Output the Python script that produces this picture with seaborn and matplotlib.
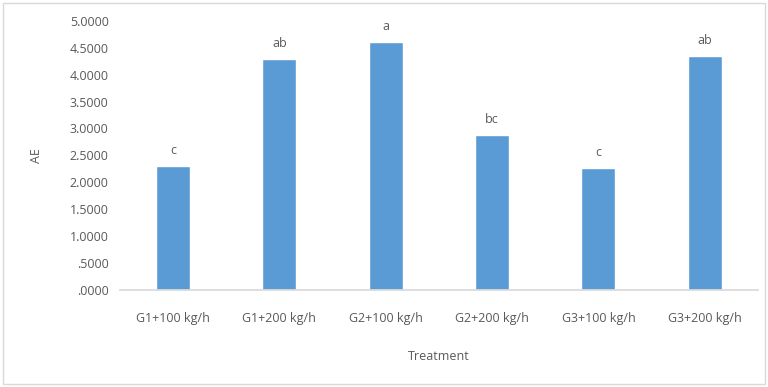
import matplotlib
matplotlib.use("Agg")
import matplotlib.pyplot as plt
import seaborn as sns
import pandas as pd

treatments = ["G1+100 kg/h", "G1+200 kg/h", "G2+100 kg/h", "G2+200 kg/h", "G3+100 kg/h", "G3+200 kg/h"]
ae_values = [2.30, 4.29, 4.61, 2.88, 2.27, 4.34]
letters = ["c", "ab", "a", "bc", "c", "ab"]
y_ticks = [0, 0.5, 1.0, 1.5, 2.0, 2.5, 3.0, 3.5, 4.0, 4.5, 5.0]

df = pd.DataFrame({"Treatment": treatments, "AE": ae_values})

sns.set_theme(style="white")
plt.rcParams["font.family"] = ["Open Sans", "DejaVu Sans"]
grey = "#595959"

fig = plt.figure(figsize=(7.68, 3.87), dpi=100)
ax = fig.add_axes([0.156, 0.251, 0.831, 0.695])
sns.barplot(data=df, x="Treatment", y="AE", color="#5B9BD5", width=0.32,
            saturation=1, ax=ax)

for i, (v, lab) in enumerate(zip(ae_values, letters)):
    ax.text(i, v + 0.17, lab, ha="center", va="bottom", fontsize=9, color=grey)

ax.set_ylim(0, 5.0)
ax.set_xlim(-0.5, 5.5)
ax.set_yticks(y_ticks)
ax.set_yticklabels(["." + f"{t:.4f}".split(".")[1] if t < 1 else f"{t:.4f}" for t in y_ticks])
ax.tick_params(axis="both", length=0, labelsize=9, colors=grey, pad=8)
ax.tick_params(axis="x", pad=16)
for s in ["top", "right", "left"]:
    ax.spines[s].set_visible(False)
ax.spines["bottom"].set_color("#D9D9D9")
ax.set_xlabel("Treatment", fontsize=9, color=grey, labelpad=18)
ax.set_ylabel("AE", fontsize=9, color=grey, labelpad=19)

fig.patches.append(plt.Rectangle((0.004, 0.008), 0.992, 0.984, transform=fig.transFigure,
                                 fill=False, edgecolor="#D9D9D9", linewidth=1))

fig.savefig("out.png", dpi=100)
